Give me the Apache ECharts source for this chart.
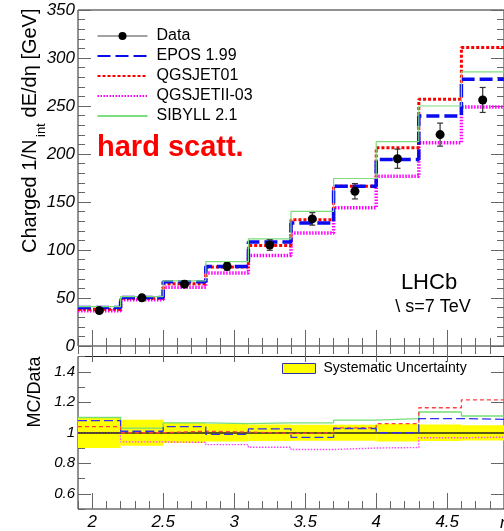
<!DOCTYPE html>
<html>
<head>
<meta charset="utf-8">
<script src="https://cdn.jsdelivr.net/npm/echarts@6/dist/echarts.min.js"></script>
<style>
  html, body { margin: 0; padding: 0; background: #fff; }
  #chart { width: 504px; height: 531px; }
</style>
</head>
<body>
<div id="chart"></div>
<script>
// bin edges in eta, 10 bins
const binEdges = [1.9, 2.2, 2.5, 2.8, 3.1, 3.4, 3.7, 4.0, 4.3, 4.6, 4.9];
const binCenters = [2.05, 2.35, 2.65, 2.95, 3.25, 3.55, 3.85, 4.15, 4.45, 4.75];

// upper panel: energy flow [GeV]
const dataVal = [36.9, 50.2, 64.4, 82.9, 105.2, 132.4, 161.2, 195.1, 220.2, 256.3];
const dataErr = [2.5, 3, 3.5, 4, 5.5, 6.5, 8, 10, 12, 13];
const epos = [40.0, 50.5, 66.9, 82.9, 108.3, 128.2, 166.5, 194.4, 239.6, 277.9];
const qgsjet01 = [38.3, 49.8, 64.8, 82.2, 104.8, 131.6, 166.5, 206.6, 257.0, 311.0];
const qgsjet2 = [36.6, 48.1, 61.3, 76.0, 94.3, 117.7, 143.9, 176.9, 211.8, 249.0];
const sibyll = [41.1, 51.5, 67.9, 87.8, 111.5, 140.3, 174.5, 212.8, 250.0, 285.6];

// lower panel: MC/Data
const rEpos = [1.08, 1.01, 1.04, 0.99, 1.025, 0.97, 1.028, 1.0, 1.093, 1.088];
const rQgs01 = [1.04, 1.0, 1.01, 1.005, 0.995, 1.0, 1.032, 1.06, 1.164, 1.216];
const rQgs2 = [1.0, 0.94, 0.937, 0.922, 0.905, 0.89, 0.9, 0.903, 0.967, 0.971];
const rSibyll = [1.1, 1.03, 1.065, 1.06, 1.065, 1.065, 1.083, 1.093, 1.136, 1.11];
const systErr = [0.1, 0.085, 0.068, 0.058, 0.054, 0.052, 0.052, 0.057, 0.054, 0.05];

const xMajor = [2, 2.5, 3, 3.5, 4, 4.5];
const rMajor = [0.6, 0.8, 1, 1.2, 1.4];

const FONT = 'Liberation Sans, Arial, sans-serif';
const chart = echarts.init(document.getElementById('chart'));

function stepData(vals) {
  const d = vals.map((v, i) => [binEdges[i], v]);
  d.push([binEdges[binEdges.length - 1], vals[vals.length - 1]]);
  return d;
}

const tickCol = '#666';
function xAx(grid, pos, len, major, labels) {
  const a = {
    type: 'value', gridIndex: grid, position: pos, min: 1.9, max: 4.9, interval: 0.1,
    axisLine: { show: false }, splitLine: { show: false },
    axisTick: { inside: true, length: len, lineStyle: { color: tickCol, width: 1 } },
    axisLabel: { show: false }
  };
  if (major) a.axisTick.customValues = xMajor;
  if (labels) a.axisLabel = {
    show: true, customValues: xMajor, margin: 5,
    fontFamily: FONT, fontStyle: 'italic', fontSize: 17, color: '#000'
  };
  return a;
}
function yAx(grid, pos, min, max, interval, len, custom, labels, fs) {
  const a = {
    type: 'value', gridIndex: grid, position: pos, min: min, max: max, interval: interval,
    axisLine: { show: false }, splitLine: { show: false },
    axisTick: { inside: true, length: len, lineStyle: { color: tickCol, width: 1 } },
    axisLabel: { show: false }
  };
  if (custom) a.axisTick.customValues = custom;
  if (labels) a.axisLabel = {
    show: true, margin: 3, fontFamily: FONT, fontStyle: 'italic', fontSize: fs, color: '#000'
  };
  if (labels && custom) a.axisLabel.customValues = custom;
  return a;
}

function renderErr(params, api) {
  const x = api.value(0), lo = api.value(1), hi = api.value(2);
  const p1 = api.coord([x, lo]), p2 = api.coord([x, hi]);
  const cap = 3;
  const style = { stroke: '#333', lineWidth: 1.2 };
  return {
    type: 'group', children: [
      { type: 'line', shape: { x1: p1[0], y1: p1[1], x2: p2[0], y2: p2[1] }, style: style },
      { type: 'line', shape: { x1: p1[0] - cap, y1: p1[1], x2: p1[0] + cap, y2: p1[1] }, style: style },
      { type: 'line', shape: { x1: p2[0] - cap, y1: p2[1], x2: p2[0] + cap, y2: p2[1] }, style: style }
    ]
  };
}
function renderBand(params, api) {
  const a = api.coord([api.value(0), 1 + api.value(2)]);
  const b = api.coord([api.value(1), 1 - api.value(2)]);
  return {
    type: 'rect',
    shape: { x: a[0], y: a[1], width: b[0] - a[0], height: b[1] - a[1] },
    style: { fill: '#ffff00' }
  };
}

function histo(name, vals, grid, color, width, dash, z) {
  return {
    name: name, type: 'line', step: 'end', data: stepData(vals),
    xAxisIndex: grid === 0 ? 0 : 4, yAxisIndex: grid === 0 ? 0 : 4,
    symbol: 'none', z: z,
    lineStyle: { color: color, width: width, type: dash },
    itemStyle: { color: color }
  };
}

// legend entries for histograms: line only, no marker
function lineOnly(name) {
  return { name: name, itemStyle: { opacity: 0 } };
}

const option = {
  animation: false,
  backgroundColor: '#fff',
  grid: [
    { left: 78, top: 10, width: 436, height: 336, show: true, borderColor: '#222', borderWidth: 1, backgroundColor: 'transparent' },
    { left: 78, top: 356.5, width: 436, height: 154.5, show: true, borderColor: '#222', borderWidth: 1, backgroundColor: 'transparent' }
  ],
  xAxis: [
    xAx(0, 'bottom', 8, false, false),
    xAx(0, 'bottom', 16, true, false),
    xAx(0, 'top', 8, false, false),
    xAx(0, 'top', 16, true, false),
    xAx(1, 'bottom', 8, false, false),
    xAx(1, 'bottom', 16, true, true)
  ],
  yAxis: [
    yAx(0, 'left', 0, 350, 10, 7, null, false),
    yAx(0, 'left', 0, 350, 50, 13, null, true, 17),
    yAx(0, 'right', 0, 350, 50, 13, null, false),
    yAx(0, 'right', 0, 350, 10, 7, null, false),
    yAx(1, 'left', 0.5, 1.5, 0.1, 7, null, false),
    yAx(1, 'left', 0.5, 1.5, 0.1, 13, rMajor, true, 15),
    yAx(1, 'right', 0.5, 1.5, 0.1, 13, rMajor, false)
  ],
  legend: [
    {
      orient: 'vertical', left: 96.5, top: 28, padding: 0,
      itemWidth: 50, itemHeight: 10, itemGap: 4,
      textStyle: { fontFamily: FONT, fontSize: 16, color: '#000', padding: [0, 0, 0, 4] },
      data: [
        { name: 'Data', lineStyle: { width: 1, color: '#444', opacity: 1 } },
        lineOnly('EPOS 1.99'), lineOnly('QGSJET01'), lineOnly('QGSJETII-03'), lineOnly('SIBYLL 2.1')
      ]
    },
    {
      left: 282, top: 361.5, padding: 0, itemWidth: 33, itemHeight: 10,
      textStyle: { fontFamily: FONT, fontSize: 14, color: '#000', padding: [0, 0, 0, 3] },
      data: [{
        name: 'Systematic Uncertainty', icon: 'rect',
        itemStyle: { color: '#ffff00', borderColor: '#3333aa', borderWidth: 1 }
      }]
    }
  ],
  series: [
    {
      name: 'Data', type: 'line', xAxisIndex: 0, yAxisIndex: 0,
      data: binCenters.map((x, i) => [x, dataVal[i]]),
      symbol: 'circle', symbolSize: 9, showSymbol: true, z: 10,
      lineStyle: { width: 0, opacity: 0 }, itemStyle: { color: '#000' }
    },
    histo('EPOS 1.99', epos, 0, '#0a0aee', 3.5, [13, 5], 4),
    histo('QGSJET01', qgsjet01, 0, '#ff0000', 3, [3, 2], 3),
    histo('QGSJETII-03', qgsjet2, 0, '#ff00ff', 3.5, [1.5, 1.5], 2),
    histo('SIBYLL 2.1', sibyll, 0, '#7ddc7d', 1.2, 'solid', 5),
    {
      type: 'custom', xAxisIndex: 0, yAxisIndex: 0, z: 9,
      renderItem: renderErr, encode: { x: 0, y: [1, 2] },
      data: binCenters.map((x, i) => [x, dataVal[i] - dataErr[i], dataVal[i] + dataErr[i]])
    },
    {
      name: 'Systematic Uncertainty', type: 'custom', xAxisIndex: 4, yAxisIndex: 4, z: 1,
      renderItem: renderBand, encode: { x: [0, 1] },
      itemStyle: { color: '#ffff00' },
      data: systErr.map((e, i) => [binEdges[i], binEdges[i + 1], e])
    },
    Object.assign(histo('r SIBYLL', rSibyll, 1, '#77dd77', 1.3, 'solid', 3), {
      markLine: {
        silent: true, symbol: 'none', label: { show: false },
        lineStyle: { color: '#222', width: 1.5, type: 'solid' },
        data: [{ yAxis: 1 }]
      }
    }),
    histo('r QGSJETII', rQgs2, 1, '#ff44ff', 1.4, [1.5, 1.5], 4),
    histo('r QGSJET01', rQgs01, 1, '#ff4040', 1.3, [4, 3], 5),
    histo('r EPOS', rEpos, 1, '#3030ee', 1.3, [9, 4], 6)
  ],
  graphic: [
    { type: 'text', x: 30.5, y: 253, rotation: Math.PI / 2,
      style: { text: 'Charged 1/N', font: '20px ' + FONT, fill: '#000', align: 'left', verticalAlign: 'middle', textAlign: 'left', textVerticalAlign: 'middle' } },
    { type: 'text', x: 41, y: 137, rotation: Math.PI / 2,
      style: { text: 'int', font: '13px ' + FONT, fill: '#000', align: 'left', verticalAlign: 'middle', textAlign: 'left', textVerticalAlign: 'middle' } },
    { type: 'text', x: 30.5, y: 123, rotation: Math.PI / 2,
      style: { text: ' dE/dη [GeV]', font: '20px ' + FONT, fill: '#000', align: 'left', verticalAlign: 'middle', textAlign: 'left', textVerticalAlign: 'middle' } },
    { type: 'text', x: 35, y: 392, rotation: Math.PI / 2,
      style: { text: 'MC/Data', font: '18px ' + FONT, fill: '#000', align: 'center', verticalAlign: 'middle', textAlign: 'center', textVerticalAlign: 'middle' } },
    { type: 'text', x: 97, y: 148,
      style: { text: 'hard scatt.', font: 'bold 29px ' + FONT, fill: '#ff0000', align: 'left', verticalAlign: 'middle', textAlign: 'left', textVerticalAlign: 'middle' } },
    { type: 'text', x: 429, y: 283,
      style: { text: 'LHCb', font: '22px ' + FONT, fill: '#000', align: 'center', verticalAlign: 'middle', textAlign: 'center', textVerticalAlign: 'middle' } },
    { type: 'text', x: 433, y: 307,
      style: { text: '\\ s=7 TeV', font: '18px ' + FONT, fill: '#000', align: 'center', verticalAlign: 'middle', textAlign: 'center', textVerticalAlign: 'middle' } },
    { type: 'text', x: 500, y: 523,
      style: { text: 'η', font: 'italic 17px ' + FONT, fill: '#000', align: 'left', verticalAlign: 'middle', textAlign: 'left', textVerticalAlign: 'middle' } }
  ]
};

chart.setOption(option);
</script>
</body>
</html>
